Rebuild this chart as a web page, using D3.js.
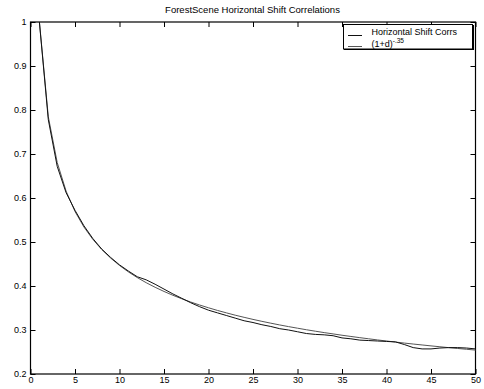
<!DOCTYPE html>
<html><head><meta charset="utf-8">
<script src="https://cdn.jsdelivr.net/npm/d3@7"></script>
<style>body{margin:0;background:#fff}svg{display:block}text{font-family:"Liberation Sans",Arial,sans-serif}</style>
</head><body>
<script>
const title = "ForestScene Horizontal Shift Correlations";
const lags = d3.range(1, 51);
const dataCorrs = [1.000,0.778,0.672,0.612,0.572,0.537,0.508,0.484,0.465,0.448,
  0.434,0.421,0.414,0.404,0.393,0.382,0.372,0.362,0.353,0.345,
  0.339,0.333,0.327,0.321,0.317,0.312,0.308,0.303,0.300,0.296,
  0.292,0.290,0.289,0.287,0.282,0.280,0.277,0.276,0.275,0.274,
  0.273,0.267,0.260,0.257,0.257,0.259,0.260,0.260,0.259,0.257];
const fitCorrs = [1.0000,0.7846,0.6808,0.6156,0.5693,0.5341,0.5061,0.4830,0.4635,0.4467,
  0.4320,0.4191,0.4075,0.3971,0.3876,0.3789,0.3710,0.3636,0.3568,0.3505,
  0.3445,0.3390,0.3337,0.3288,0.3241,0.3197,0.3155,0.3115,0.3077,0.3041,
  0.3006,0.2973,0.2941,0.2911,0.2881,0.2853,0.2826,0.2800,0.2774,0.2750,
  0.2726,0.2703,0.2681,0.2660,0.2639,0.2619,0.2599,0.2580,0.2562,0.2543];
const xTicks = [0,5,10,15,20,25,30,35,40,45,50];
const yTicks = [0.2,0.3,0.4,0.5,0.6,0.7,0.8,0.9,1];
const legendLabels = ["Horizontal Shift Corrs", "(1+d)"];

const W = 484, H = 389;
const L = 30.5, R = 475.5, T = 22, B = 374;
const svg = d3.select("body").append("svg").attr("width", W).attr("height", H);
const x = d3.scaleLinear().domain([0, 50]).range([L, R]);
const y = d3.scaleLinear().domain([0.2, 1]).range([B, T]);

svg.append("text").attr("x", 252.5).attr("y", 13).attr("text-anchor", "middle")
  .attr("font-size", 9.5).attr("fill", "#000").text(title);

const fmt = d => d === 1 ? "1" : d3.format(".1f")(d);
const gB = svg.append("g").attr("transform", `translate(0,${B})`)
  .call(d3.axisBottom(x).tickValues(xTicks).tickSize(-5).tickPadding(3).tickFormat(d3.format("d")));
const gT = svg.append("g").attr("transform", `translate(0,${T})`)
  .call(d3.axisTop(x).tickValues(xTicks).tickSize(-5).tickFormat(""));
const gL = svg.append("g").attr("transform", `translate(${L},0)`)
  .call(d3.axisLeft(y).tickValues(yTicks).tickSize(-5).tickPadding(4).tickFormat(fmt));
const gR = svg.append("g").attr("transform", `translate(${R},0)`)
  .call(d3.axisRight(y).tickValues(yTicks).tickSize(-5).tickFormat(""));
[gB, gT, gL, gR].forEach(g => {
  g.select(".domain").remove();
  g.selectAll(".tick line").attr("stroke", "#000");
  g.selectAll("text").attr("font-size", 9).attr("fill", "#000")
    .attr("font-family", '"Liberation Sans",Arial,sans-serif');
});
svg.append("rect").attr("x", L).attr("y", T).attr("width", R - L).attr("height", B - T)
  .attr("fill", "none").attr("stroke", "#000").attr("stroke-width", 1.2);

const line = d3.line().x((d, i) => x(lags[i])).y(d => y(d));
svg.append("path").datum(fitCorrs).attr("d", line).attr("fill", "none")
  .attr("stroke", "#555").attr("stroke-width", 1);
svg.append("path").datum(dataCorrs).attr("d", line).attr("fill", "none")
  .attr("stroke", "#111").attr("stroke-width", 1);

// legend
const lg = svg.append("g");
lg.append("rect").attr("x", 343.5).attr("y", 24.5).attr("width", 129).attr("height", 24.5)
  .attr("fill", "#fff").attr("stroke", "#000").attr("stroke-width", 1);
lg.append("line").attr("x1", 344).attr("x2", 473.5).attr("y1", 49.5).attr("y2", 49.5).attr("stroke", "#000").attr("stroke-width", 1);
lg.append("line").attr("x1", 473.5).attr("x2", 473.5).attr("y1", 25).attr("y2", 50).attr("stroke", "#000").attr("stroke-width", 1);
lg.append("line").attr("x1", 348).attr("x2", 362).attr("y1", 35.5).attr("y2", 35.5).attr("stroke", "#111");
lg.append("line").attr("x1", 348).attr("x2", 362).attr("y1", 46.5).attr("y2", 46.5).attr("stroke", "#555");
lg.append("text").attr("x", 371.5).attr("y", 35).attr("font-size", 9).attr("fill", "#000").text(legendLabels[0]);
const t2 = lg.append("text").attr("x", 371.5).attr("y", 46.5).attr("font-size", 9).attr("fill", "#000");
t2.append("tspan").text(legendLabels[1]);
t2.append("tspan").attr("dy", -4).attr("font-size", 6.5).text("-.35");
</script>
</body></html>
